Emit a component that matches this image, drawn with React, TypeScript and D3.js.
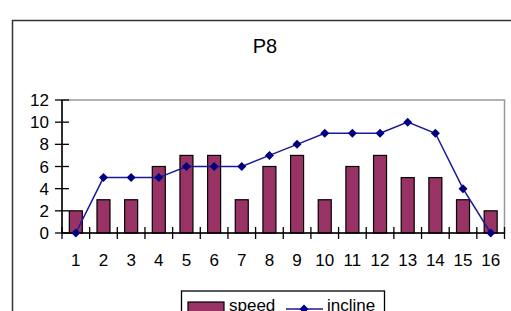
import React from 'react';
import * as d3 from 'd3';

const categories = ['1', '2', '3', '4', '5', '6', '7', '8', '9', '10', '11', '12', '13', '14', '15', '16'];
const speed = [2, 3, 3, 6, 7, 7, 3, 6, 7, 3, 6, 7, 5, 5, 3, 2];
const incline = [0, 5, 5, 5, 6, 6, 6, 7, 8, 9, 9, 9, 10, 9, 4, 0];
const yTicks = [0, 2, 4, 6, 8, 10, 12];

const W = 511;
const H = 311;
const plot = { left: 62, right: 504.5, top: 100, bottom: 233 };
const font = 'Arial, "Liberation Sans", sans-serif';

export default function App() {
  const x = d3.scaleBand<string>()
    .domain(categories)
    .range([plot.left, plot.right])
    .paddingInner(0.53)
    .paddingOuter(0.265);
  const step = x.step();
  const bw = x.bandwidth();
  const cx = (c: string) => x(c)! + bw / 2;

  const y = d3.scaleLinear().domain([0, 12]).range([plot.bottom, plot.top]);

  const line = d3.line<number>()
    .x((_, i) => cx(categories[i]))
    .y(d => y(d));

  const diamond = (px: number, py: number, r = 4.5) =>
    `M${px},${py - r}L${px + r},${py}L${px},${py + r}L${px - r},${py}Z`;

  // category boundary ticks
  const boundaries = d3.range(categories.length + 1).map(i => plot.left + i * step);

  return (
    <svg width={W} height={H} style={{ position: 'absolute', left: 0, top: 0, background: '#fff' }}>
      {/* outer chart border */}
      <rect x={12.5} y={20.5} width={520} height={320} fill="none" stroke="#333" strokeWidth={1.5} />

      <text x={265} y={53} textAnchor="middle" fontFamily={font} fontSize={20} fill="#000">P8</text>

      {/* plot area border */}
      <rect x={plot.left} y={plot.top} width={plot.right - plot.left} height={plot.bottom - plot.top}
        fill="none" stroke="#999" strokeWidth={1.5} />

      {/* bars */}
      {speed.map((v, i) => (
        <rect key={i} x={x(categories[i])} y={y(v)} width={bw} height={y(0) - y(v)}
          fill="#993366" stroke="#000" strokeWidth={1.2} />
      ))}

      {/* y axis */}
      <line x1={plot.left} x2={plot.left} y1={plot.top} y2={plot.bottom} stroke="#000" strokeWidth={1.5} />
      {yTicks.map(t => (
        <g key={t}>
          <line x1={plot.left - 7} x2={plot.left + 7} y1={y(t)} y2={y(t)} stroke="#000" strokeWidth={1.3} />
          <text x={plot.left - 13} y={y(t) + 6} textAnchor="end" fontFamily={font} fontSize={17} fill="#000">{t}</text>
        </g>
      ))}

      {/* x axis */}
      <line x1={plot.left} x2={plot.right} y1={plot.bottom} y2={plot.bottom} stroke="#000" strokeWidth={1.5} />
      {boundaries.map((b, i) => (
        <line key={i} x1={b} x2={b} y1={plot.bottom - 6} y2={plot.bottom + 6} stroke="#000" strokeWidth={1.3} />
      ))}
      {categories.map(c => (
        <text key={c} x={cx(c)} y={266} textAnchor="middle" fontFamily={font} fontSize={17} fill="#000">{c}</text>
      ))}

      {/* incline line */}
      <path d={line(incline) ?? ''} fill="none" stroke="#1a1a99" strokeWidth={1.5} />
      {incline.map((v, i) => (
        <path key={i} d={diamond(cx(categories[i]), y(v))} fill="#000080" />
      ))}

      {/* legend */}
      <rect x={181.5} y={291} width={203} height={40} fill="#fff" stroke="#000" strokeWidth={1.3} />
      <rect x={188} y={302} width={36} height={20} fill="#993366" stroke="#000" strokeWidth={1.2} />
      <text x={229} y={311} fontFamily={font} fontSize={17} fill="#000">speed</text>
      <line x1={286} x2={323} y1={309} y2={309} stroke="#1a1a99" strokeWidth={1.5} />
      <path d={diamond(304, 309)} fill="#000080" />
      <text x={327} y={311} fontFamily={font} fontSize={17} fill="#000">incline</text>
    </svg>
  );
}
